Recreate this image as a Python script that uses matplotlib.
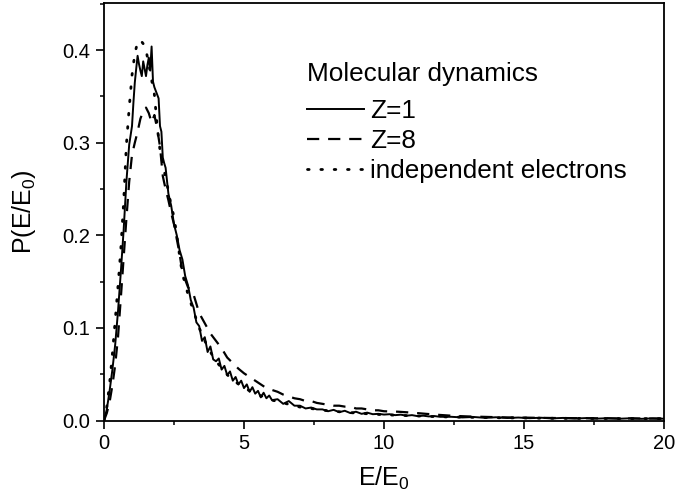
import numpy as np
import matplotlib
matplotlib.use("Agg")
import matplotlib.pyplot as plt
from matplotlib.ticker import MultipleLocator

plt.rcParams['font.family'] = ['Liberation Sans', 'DejaVu Sans']
plt.rcParams['mathtext.fontset'] = 'custom'
plt.rcParams['mathtext.rm'] = 'Liberation Sans'
plt.rcParams['mathtext.it'] = 'Liberation Sans'

# ---- data: Z=1 (solid) ----
z1_x = np.concatenate([
    np.round(np.arange(0.0, 0.95, 0.1), 2),
    np.round(np.arange(1.0, 2.21, 0.05), 2),
    np.round(np.arange(2.3, 6.01, 0.1), 2),
    np.round(np.arange(6.2, 12.01, 0.2), 2),
    np.round(np.arange(12.4, 20.01, 0.4), 2),
])
z1_y = [
    0.000, 0.012, 0.032, 0.055, 0.082, 0.118, 0.160, 0.205, 0.258, 0.298,
    0.318, 0.343, 0.365, 0.380, 0.394, 0.385, 0.378, 0.372, 0.388, 0.380,
    0.372, 0.384, 0.392, 0.378, 0.404, 0.366, 0.360, 0.356, 0.352, 0.348,
    0.318, 0.312, 0.284, 0.278, 0.273,
    0.245, 0.232, 0.212, 0.200, 0.184, 0.174, 0.156, 0.146, 0.130, 0.122,
    0.106, 0.102, 0.086, 0.090, 0.074, 0.080, 0.066, 0.064, 0.067, 0.055,
    0.059, 0.049, 0.053, 0.043, 0.047, 0.039, 0.043, 0.035, 0.039, 0.031,
    0.036, 0.029, 0.032, 0.025, 0.030, 0.024, 0.027, 0.022,
    0.023, 0.018, 0.021, 0.016, 0.016, 0.013, 0.014, 0.012, 0.012, 0.010,
    0.0115, 0.0090, 0.0105, 0.0080, 0.0095, 0.0072, 0.0085, 0.0068, 0.0072, 0.0064,
    0.0068, 0.0058, 0.0063, 0.0052, 0.0058, 0.0047, 0.0052, 0.0044, 0.0048, 0.0040,
    0.0040, 0.0033, 0.0038, 0.0029, 0.0035, 0.0027, 0.0032, 0.0025, 0.0030, 0.0023,
    0.0028, 0.0021, 0.0026, 0.0020, 0.0025, 0.0019, 0.0024, 0.0018, 0.0023, 0.0019,
]

# ---- data: Z=8 (dashed) ----
z8_x = np.concatenate([
    np.round(np.arange(0.0, 3.01, 0.1), 2),
    np.round(np.arange(3.2, 10.01, 0.2), 2),
    np.round(np.arange(10.5, 20.01, 0.5), 2),
])
z8_y = [
    0.000, 0.008, 0.020, 0.038, 0.060, 0.090, 0.132, 0.175, 0.218, 0.258,
    0.287, 0.300, 0.312, 0.326, 0.334, 0.338, 0.332, 0.322, 0.330, 0.315,
    0.296, 0.264, 0.250, 0.238, 0.224, 0.212, 0.196, 0.180, 0.160, 0.152,
    0.144,
    0.136, 0.116, 0.105, 0.094, 0.086, 0.078, 0.068, 0.062, 0.056, 0.051,
    0.047, 0.043, 0.039, 0.035, 0.033, 0.031, 0.028, 0.026, 0.024, 0.023,
    0.021, 0.021, 0.019, 0.018, 0.017, 0.016, 0.016, 0.015, 0.015, 0.013,
    0.013, 0.012, 0.011, 0.011, 0.010,
    0.0095, 0.0085, 0.0072, 0.0060, 0.0050, 0.0044, 0.0040, 0.0036, 0.0033, 0.0031,
    0.0029, 0.0027, 0.0026, 0.0025, 0.0024, 0.0023, 0.0022, 0.0022, 0.0021, 0.0020,
]

# ---- data: independent electrons (dotted) ----
ind_x = [0.0, 0.1, 0.2, 0.3, 0.4, 0.5, 0.6, 0.7, 0.8, 0.9,
         1.0, 1.1, 1.2, 1.3, 1.4, 1.5, 1.6, 1.7, 1.8, 1.9,
         2.0, 2.1, 2.2, 2.3, 2.4, 2.5, 2.6, 2.7, 2.8, 2.9,
         3.0, 3.2, 3.4, 3.6, 3.8, 4.0, 4.5, 5.0, 5.5, 6.0,
         7.0, 8.0, 9.0, 10.0, 12.0, 14.0, 16.0, 18.0, 20.0]
ind_y = [0.000, 0.015, 0.040, 0.072, 0.108, 0.145, 0.185, 0.235, 0.298, 0.338,
         0.373, 0.396, 0.409, 0.411, 0.407, 0.400, 0.385, 0.368, 0.352, 0.318,
         0.292, 0.278, 0.262, 0.248, 0.232, 0.220, 0.200, 0.178, 0.158, 0.148,
         0.136, 0.118, 0.100, 0.086, 0.074, 0.064, 0.046, 0.035, 0.028, 0.022,
         0.0145, 0.0105, 0.008, 0.0062, 0.004, 0.003, 0.0024, 0.0021, 0.002]

labels = ["Z=1", "Z=8", "independent electrons"]
legend_title = "Molecular dynamics"

fig = plt.figure(figsize=(6.76, 4.97), dpi=100)
ax = fig.add_axes([104/676, 1-420.5/497, (664-104)/676, (420.5-3)/497])

ax.plot(z1_x, z1_y, color='black', lw=1.4, ls='-', label=labels[0])
ax.plot(z8_x, z8_y, color='black', lw=1.6, ls=(0, (5.5, 4.0)), label=labels[1])
ax.plot(ind_x, ind_y, color='black', lw=2.0, ls=(0, (0.6, 4.2)),
        dash_capstyle='round', label=labels[2])

ax.set_xlim(0, 20)
ax.set_ylim(0, 0.451)
ax.xaxis.set_major_locator(MultipleLocator(5))
ax.xaxis.set_minor_locator(MultipleLocator(2.5))
ax.yaxis.set_major_locator(MultipleLocator(0.1))
ax.yaxis.set_minor_locator(MultipleLocator(0.05))
ax.set_yticks([0.0, 0.1, 0.2, 0.3, 0.4])
ax.set_yticklabels(["0.0", "0.1", "0.2", "0.3", "0.4"])
ax.tick_params(which='major', direction='out', length=5.5, width=1.2,
               labelsize=14.5, pad=4.5)
ax.tick_params(which='minor', direction='out', length=3, width=1.1)
ax.tick_params(top=False, right=False, which='both')
for s in ax.spines.values():
    s.set_linewidth(1.3)

ax.set_xlabel("E/E$_0$", fontsize=18, labelpad=8)
ax.set_ylabel("P(E/E$_0$)", fontsize=18, labelpad=17)

fs = 18.8
leg = ax.legend(title=legend_title, loc='upper left',
                bbox_to_anchor=((307-104)/560, 1-(62-3)/417.5),
                frameon=False, fontsize=fs, title_fontsize=fs,
                handlelength=2.2, handletextpad=0.22, labelspacing=0.24,
                borderpad=0, borderaxespad=0, alignment='left')
leg._legend_box.sep = 0.24 * fs + 4.6

fig.savefig("out.png", dpi=100)
